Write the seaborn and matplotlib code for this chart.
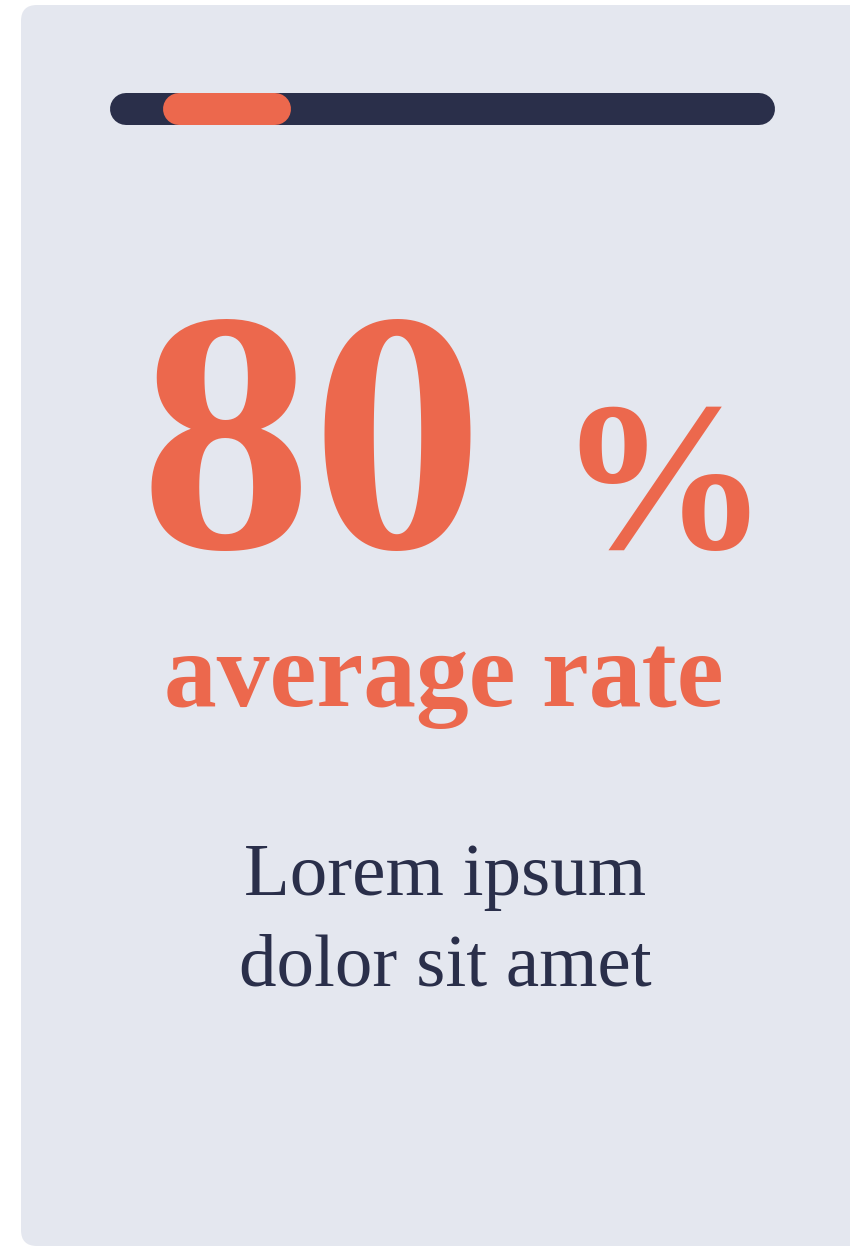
import matplotlib
matplotlib.use("Agg")
import matplotlib.pyplot as plt
from matplotlib.patches import FancyBboxPatch
import seaborn as sns
import pandas as pd

# ---- data ----
track_range = [0, 100]          # full progress track (percent)
highlight_range = [8.4, 23.5]   # orange highlighted segment on the track
big_value = "80"
big_unit = "%"
subtitle = "average rate"
body_lines = ["Lorem ipsum", "dolor sit amet"]

ORANGE = "#EC684D"
NAVY = "#2A2F4A"
CARD = "#E4E7EF"

sns.set_theme(style="white")
plt.rcParams["font.family"] = ["Liberation Serif", "DejaVu Serif"]

W, H = 850, 1247
DPI = 100
fig = plt.figure(figsize=(W / DPI, H / DPI), dpi=DPI, facecolor="white")

# main canvas axes in pixel units
ax = fig.add_axes([0, 0, 1, 1])
ax.set_xlim(0, W)
ax.set_ylim(H, 0)
ax.axis("off")

card = FancyBboxPatch((21, 5), 880, 1241,
                      boxstyle="round,pad=0,rounding_size=16",
                      facecolor=CARD, edgecolor="none")
ax.add_patch(card)

# progress bar axes (track from px 126 to 759, centred at y=109)
bar_cy = 109
bar_ax = fig.add_axes([126 / W, 1 - (bar_cy + 20) / H, 633 / W, 40 / H])
bar_ax.set_xlim(track_range)
bar_ax.set_ylim(-1, 1)
bar_ax.axis("off")
lw = 32 * 72 / DPI
track_df = pd.DataFrame({"x": track_range, "y": [0, 0]})
hl_df = pd.DataFrame({"x": highlight_range, "y": [0, 0]})
sns.lineplot(data=track_df, x="x", y="y", ax=bar_ax, color=NAVY,
             linewidth=lw, solid_capstyle="round", clip_on=False)
sns.lineplot(data=hl_df, x="x", y="y", ax=bar_ax, color=ORANGE,
             linewidth=lw, solid_capstyle="round", clip_on=False)

# big number
ax.text(484, 548, big_value, color=ORANGE, fontsize=248, fontweight="bold",
        ha="right", va="baseline")
ax.text(557, 548, big_unit, color=ORANGE, fontsize=152, fontweight="bold",
        ha="left", va="baseline")

# subtitle
ax.text(444, 706, subtitle, color=ORANGE, fontsize=76, fontweight="bold",
        ha="center", va="baseline")

# body
for i, line in enumerate(body_lines):
    ax.text(445, 895 + 90 * i, line, color=NAVY, fontsize=54,
            ha="center", va="baseline")

fig.savefig("out.png", dpi=DPI, facecolor="white")
